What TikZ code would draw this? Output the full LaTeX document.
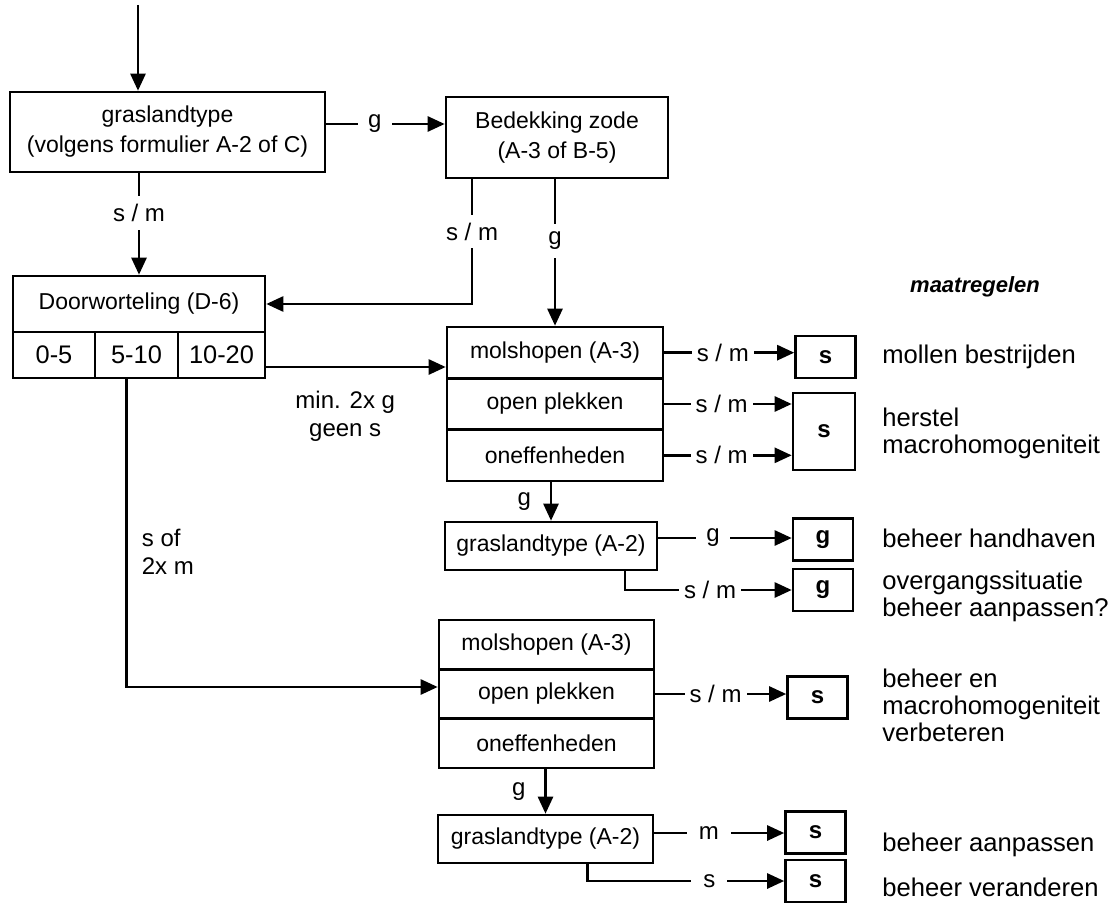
\documentclass[tikz,border=0pt]{standalone}
\usepackage{fontspec}
\setmainfont{Liberation Sans}
\usetikzlibrary{arrows.meta}
\tikzset{
  box/.style={draw, line width=1.3pt, inner sep=0pt, align=center, font=\fontsize{11.5}{15}\selectfont},
  dec/.style={draw, line width=1.3pt, inner sep=0pt, minimum width=30pt, minimum height=21pt, font=\fontsize{12}{14}\selectfont\bfseries},
  tag/.style={font=\fontsize{12}{14}\selectfont},
  lbl/.style={tag, fill=white, inner xsep=2.5pt, inner ysep=4pt},
  note/.style={anchor=west, inner sep=0pt, align=left, font=\fontsize{12.8}{13.5}\selectfont},
  arr/.style={line width=1.3pt, -{Triangle[length=8.5pt,width=7.5pt]}}
}
\begin{document}
\begin{tikzpicture}[x=0.5pt, y=-0.5pt]
  \useasboundingbox (0,0) rectangle (1112,904);
  % decision boxes
  \node[box, minimum width=157.5pt, minimum height=40pt] (gras) at (167.5,132) {graslandtype\\(volgens formulier A-2 of C)};
  \node[box, minimum width=111pt, minimum height=40.5pt] (bedek) at (557,137.5) {Bedekking zode\\(A-3 of B-5)};
  \node[box, minimum width=126pt, minimum height=28pt] (door) at (139,304) {Doorworteling (D-6)};
  \foreach \t/\c/\w [count=\i] in {0-5/54/41,5-10/136.5/41.5,10-20/221.5/43.5}
    \node[box, font=\fontsize{12.7}{15}\selectfont, minimum width=\w pt, minimum height=23pt] (d\i) at (\c,355) {\t};
  \foreach \t [count=\i] in {molshopen (A-3),open plekken,oneffenheden}{
    \node[box, minimum width=108pt, minimum height=25.67pt] (ma\i) at (555,{327+51.33*(\i-0.5)}) {\t};
    \node[box, minimum width=107.5pt, minimum height=24.67pt] (mb\i) at (546.5,{620+49.33*(\i-0.5)}) {\t};
  }
  \node[box, minimum width=106pt, minimum height=24pt] (gA) at (551,546) {graslandtype (A-2)};
  \node[box, minimum width=107.5pt, minimum height=24pt] (gB) at (545.5,839) {graslandtype (A-2)};
  % results
  \node[dec] (r1) at (825.5,357) {s};
  \node[dec, minimum width=31pt, minimum height=38.5pt] (r2) at (824,431.5) {s};
  \node[dec] (r3) at (823,539.5) {g};
  \node[dec] (r4) at (823,590) {g};
  \node[dec] (r5) at (817.5,697.5) {s};
  \node[dec] (r6) at (815.5,832.5) {s};
  \node[dec] (r7) at (815.5,881) {s};
  % measures
  \node[font=\fontsize{11}{12}\selectfont\bfseries\itshape] (head) at (975,287) {maatregelen};
  \node[note] (n1) at (882,357) {mollen bestrijden};
  \node[note] (n2) at (882,433) {herstel\\macrohomogeniteit};
  \node[note] (n3) at (882,538) {beheer handhaven};
  \node[note] (n4) at (882,596) {overgangssituatie\\beheer aanpassen?};
  \node[note] (n5) at (882,705) {beheer en\\macrohomogeniteit\\verbeteren};
  \node[note] (n6) at (882,845) {beheer aanpassen};
  \node[note] (n7) at (882,887) {beheer veranderen};
  % connectors
  \coordinate (in) at (138,5);
  \draw[arr] (in) -- (in |- gras.north);
  \draw[arr] ([yshift=4pt]gras.east) -- node[lbl, inner xsep=5pt, pos=0.41]{g} ([yshift=4pt]gras.east -| bedek.west);
  \draw[arr] (gras.south -| door.north) -- node[lbl, pos=0.39]{s / m} (door.north);
  \draw[arr] ([xshift=-42.5pt]bedek.south) |- node[lbl, pos=0.21]{s / m} (door.east);
  \draw[arr] (bedek.south -| ma1.north) -- node[lbl, pos=0.42]{g} (ma1.north);
  \draw[arr] ([yshift=-6pt]d3.east) -- node[tag, pos=0.44, below=8pt, align=center]{min. 2x g\\geen s} ([yshift=-6pt]d3.east -| ma1.west);
  \draw[arr] ([xshift=-5pt]d2.south) |- node[tag, pos=0.28, right=3.7pt, align=left]{s of\\2x m} ([yshift=3.5pt]mb2.west);
  \foreach \i/\r in {1/r1,2/r2,3/r2}
    \draw[arr] (ma\i.east) -- node[lbl, pos=0.45]{s / m} (ma\i.east -| \r.west);
  \draw[arr] (ma3.south -| gA.north) -- node[tag, left=6pt]{g} (gA.north);
  \draw[arr] ([yshift=4pt]gA.east) -- node[lbl, inner xsep=5pt, pos=0.41]{g} ([yshift=4pt]gA.east -| r3.west);
  \draw[arr] ([xshift=37pt]gA.south) |- node[lbl, pos=0.755]{s / m} (r4.west);
  \draw[arr] (mb2.east) -- node[lbl, pos=0.46]{s / m} (mb2.east -| r5.west);
  \draw[arr] (mb3.south -| gB.north) -- node[tag, left=6pt]{g} (gB.north);
  \draw[arr] ([yshift=3pt]gB.east) -- node[lbl, inner xsep=6pt, pos=0.42]{m} ([yshift=3pt]gB.east -| r6.west);
  \draw[arr] ([xshift=21pt]gB.south) |- node[lbl, inner xsep=6pt, pos=0.81]{s} (r7.west);
\end{tikzpicture}
\end{document}
